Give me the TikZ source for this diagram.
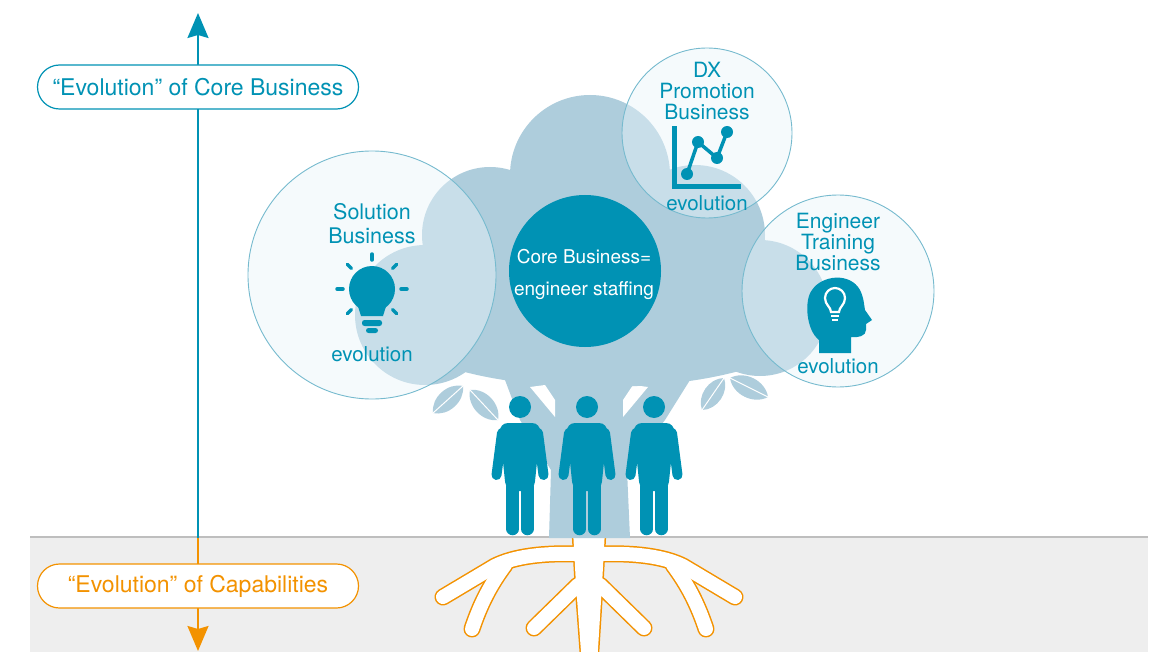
\documentclass[tikz,border=0pt]{standalone}
\usepackage{fontspec}
\setmainfont{TeX Gyre Heros}
\usetikzlibrary{arrows.meta}
\definecolor{corebl}{RGB}{0,146,180}
\definecolor{crownbl}{RGB}{174,205,220}
\definecolor{ringbl}{RGB}{118,186,206}
\definecolor{bubblebl}{RGB}{232,244,249}
\definecolor{rootor}{RGB}{243,146,0}
\definecolor{groundgr}{RGB}{238,238,238}
\definecolor{groundln}{RGB}{190,190,190}

\begin{document}
\begin{tikzpicture}[x=1pt,y=-1pt,
  bubble/.style={circle,draw=ringbl,line width=0.9pt,fill=bubblebl,fill opacity=0.45,inner sep=0pt},
  title/.style={text=corebl,align=center,font=\fontsize{21}{21}\selectfont},
  pill/.style={draw,fill=white,rounded corners=22pt,minimum width=321pt,minimum height=44pt,line width=1.2pt,font=\fontsize{23}{26}\selectfont},
  axis/.style={line width=2pt,-{Stealth[length=25pt,width=21pt,inset=3pt]}},
  root/.style={line width=17pt,line cap=round},
  rootin/.style={line width=14pt,line cap=round},
  person/.pic={
    \fill (0,0) circle (11);
    \fill[rounded corners=9] (-21,16) -- (21,16) -- (14,84) -- (-14,84) -- cycle;
    \draw[line width=10,line cap=round] (-18,26) -- (-23.5,68) (18,26) -- (23.5,68);
    \draw[line width=12.5,line cap=round] (-7.3,80) -- (-7.3,122) (7.3,80) -- (7.3,122);
  }]
\useasboundingbox (0,0) rectangle (1158,652);

\fill[groundgr] (30,537) rectangle (1148,652);
\draw[groundln,line width=1.5pt] (30,537) -- (1148,537);

\begin{scope}
\clip (30,538.5) rectangle (1148,660);
\begin{scope}[rootor]
\draw[root] (575,554) .. controls (545,553) and (515,556) .. (495,566) -- (443,597);
\draw[root] (505,565) .. controls (490,585) and (480,605) .. (472,629);
\draw[root] (578,585) -- (534,628);
\draw[root] (603,554) .. controls (633,553) and (663,556) .. (683,566) -- (735,597);
\draw[root] (673,565) .. controls (688,585) and (698,605) .. (706,629);
\draw[root] (600,585) -- (644,628);
\filldraw[line width=3pt] (573,530) -- (605,530) -- (602,585) -- (597,665) -- (582,665) -- (576,585) -- cycle;
\end{scope}
\begin{scope}[white]
\draw[rootin] (575,554) .. controls (545,553) and (515,556) .. (495,566) -- (443,597);
\draw[rootin] (505,565) .. controls (490,585) and (480,605) .. (472,629);
\draw[rootin] (578,585) -- (534,628);
\draw[rootin] (603,554) .. controls (633,553) and (663,556) .. (683,566) -- (735,597);
\draw[rootin] (673,565) .. controls (688,585) and (698,605) .. (706,629);
\draw[rootin] (600,585) -- (644,628);
\fill (573,530) -- (605,530) -- (602,585) -- (597,665) -- (582,665) -- (576,585) -- cycle;
\end{scope}
\end{scope}

\fill[crownbl] (549,538) -- (551,470) -- (520,420) -- (505,380) -- (690,380) -- (665,420) -- (627,470) -- (630,538) -- cycle;
\fill[white] (530,387) -- (545,385) -- (555,400) -- (555,417) -- cycle;
\fill[white] (648,387) -- (633,385) -- (623,400) -- (623,417) -- cycle;

\foreach \ax/\ay/\bx/\by in {433/413/463/386, 470/390/498/420, 702/410/724/378, 730/378/768/397} {
  \fill[crownbl] (\ax,\ay) to[bend left=55] (\bx,\by) to[bend left=55] (\ax,\ay);
  \draw[white,line width=1pt] (\ax,\ay) -- (\bx,\by);
}

\fill[crownbl] (590,175) circle (80) (490,235) circle (68) (425,315) circle (70)
  (695,235) circle (70) (760,308) circle (68) (600,290) circle (95)
  (600,330) ellipse (200 and 57);

\node[bubble,minimum size=248pt] (sol) at (372,275) {};
\node[bubble,minimum size=170pt] (dx) at (707,133) {};
\node[bubble,minimum size=192pt] (eng) at (838,291) {};
\node[circle,fill=corebl,minimum size=152pt,inner sep=0pt] (core) at (585,271) {};

\node[text=white,align=center,font=\fontsize{19}{32}\selectfont] (coretxt) at (584,274) {Core Business=\\engineer staffing};

\node[title,font=\fontsize{21.5}{24}\selectfont] (soltitle) at (372,224) {Solution\\Business};
\node[title,font=\fontsize{20.5}{24}\selectfont] (solevo) at (372,354) {evolution};
\fill[corebl] (372,289) circle (23);
\fill[corebl] (356,300) -- (388,300) -- (383,316) -- (361,316) -- cycle;
\fill[corebl,rounded corners=2.5] (362,320) rectangle (382,326);
\fill[corebl,rounded corners=2.5] (366,328) rectangle (378,333);
\foreach \ang in {0,45,135,180,225,270,315}
  \draw[corebl,line width=3.5pt,line cap=round] (372,289) ++(\ang:29) -- ++(\ang:6);

\node[title] (dxtitle) at (707,91) {DX\\Promotion\\Business};
\node[title,font=\fontsize{20.5}{24}\selectfont] (dxevo) at (707,203) {evolution};
\fill[corebl] (672,126) rectangle (677,189);
\fill[corebl] (672,184) rectangle (741,189);
\draw[corebl,line width=3.5pt] (687,174) -- (698,142) -- (717,158) -- (727,132);
\foreach \p in {(687,174),(698,142),(717,158),(727,132)}
  \fill[corebl] \p circle (6);

\node[title] (engtitle) at (838,242) {Engineer\\Training\\Business};
\node[title,font=\fontsize{20.5}{24}\selectfont] (engevo) at (838,366) {evolution};
\fill[corebl] (819,353) -- (819,340) .. controls (806,330) and (804,300) .. (812,290)
  .. controls (822,275) and (850,272) .. (860,290) .. controls (864,298) and (864,305) .. (865,310)
  -- (872,320) -- (866,324) -- (866,330) .. controls (866,336) and (858,338) .. (851,337)
  -- (851,353) -- cycle;
\draw[white,line width=2.2pt] (831,312) .. controls (831,307) and (825,305) .. (825,298)
  .. controls (825,292) and (830,288) .. (835,288) .. controls (840,288) and (845,292) .. (845,298)
  .. controls (845,305) and (839,307) .. (839,312) -- cycle;
\draw[white,line width=2pt] (831,316) -- (839,316) (832,320) -- (838,320);

\pic[corebl] at (520,407) {person};
\pic[corebl] at (587,407) {person};
\pic[corebl] at (654,407) {person};

\coordinate (ground) at (198,537.5);
\coordinate (up) at (198,13);
\coordinate (down) at (198,651);
\draw[axis,corebl] (ground) -- (up);
\draw[axis,rootor] (ground) -- (down);

\node[pill,draw=corebl,text=corebl] (corelbl) at (198,87) {“Evolution” of Core Business};
\node[pill,draw=rootor,text=rootor] (caplbl) at (198,586) {“Evolution” of Capabilities};
\end{tikzpicture}
\end{document}
